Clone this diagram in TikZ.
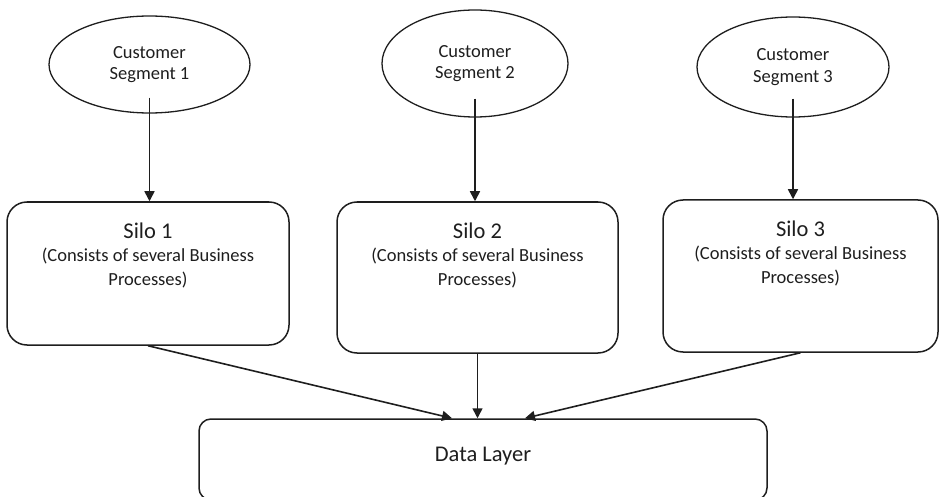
\documentclass[tikz,border=0pt]{standalone}
\usepackage{fontspec}
\setmainfont{Carlito}
\usetikzlibrary{shapes.geometric,arrows.meta}
\definecolor{ink}{RGB}{30,30,30}
\tikzset{
  segment/.style={draw=ink, ellipse, line width=1.3pt, inner sep=0pt, align=center, text=ink,
    font=\fontsize{18.5}{21.5}\selectfont},
  silo/.style={draw=ink, rounded corners=20pt, line width=1.5pt, inner sep=0pt},
  silotext/.style={anchor=north, align=center, inner sep=0pt, text=ink,
    font=\fontsize{18.5}{23.5}\selectfont},
  flow/.style={draw=ink, line width=1.6pt, -{Triangle[length=10pt,width=10pt]}}
}
\newcommand{\silotitle}[1]{{\fontsize{22.5}{23.5}\selectfont #1}}

\begin{document}
\begin{tikzpicture}[x=1pt,y=-1pt]
\useasboundingbox (0,0) rectangle (939,497);
% customer segments
\node[segment, minimum width=201pt, minimum height=97pt] (seg1) at (149.5,64.5) {Customer\\Segment 1};
\node[segment, minimum width=186pt, minimum height=107pt] (seg2) at (475,63.5) {Customer\\Segment 2};
\node[segment, minimum width=192pt, minimum height=100pt] (seg3) at (793,67) {Customer\\Segment 3};
% silos
\node[silo, minimum width=282pt, minimum height=143pt] (silo1) at (148,273.5) {};
\node[silo, minimum width=281pt, minimum height=151pt] (silo2) at (477.5,277.5) {};
\node[silo, minimum width=275pt, minimum height=152pt] (silo3) at (800.5,276) {};
\node[silotext] (silo1txt) at ([yshift=-21pt]silo1.north) {\silotitle{Silo 1}\\(Consists of several Business\\Processes)};
\node[silotext] (silo2txt) at ([yshift=-21pt]silo2.north) {\silotitle{Silo 2}\\(Consists of several Business\\Processes)};
\node[silotext] (silo3txt) at ([yshift=-21pt]silo3.north) {\silotitle{Silo 3}\\(Consists of several Business\\Processes)};
% data layer
\node[silo, rounded corners=12pt, minimum width=568pt, minimum height=81pt] (data) at (483,459.5) {};
\node[silotext, anchor=base] (datatxt) at ([yshift=-43pt]data.north) {\silotitle{Data Layer}};
% arrows
\draw[flow] ([yshift=16pt]seg1.south) -- (seg1.south |- silo1.north);
\draw[flow] ([yshift=19pt]seg2.south) -- (seg2.south |- silo2.north);
\draw[flow] ([yshift=19pt]seg3.south) -- (seg3.south |- silo3.north);
\draw[flow] (silo1.south) -- ([xshift=-31pt]data.north);
\draw[flow] (silo2.south) -- (silo2.south |- data.north);
\draw[flow] (silo3.south) -- ([xshift=42pt]data.north);
\end{tikzpicture}
\end{document}
